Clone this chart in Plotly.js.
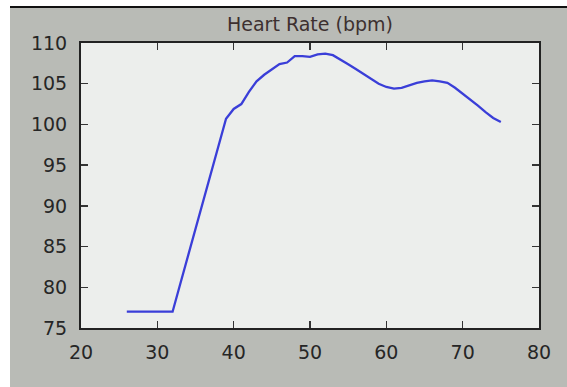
<!DOCTYPE html>
<html>
<head>
<meta charset="utf-8">
<script src="https://cdn.plot.ly/plotly-3.0.1.min.js"></script>
<style>
html,body{margin:0;padding:0;background:#ffffff;width:567px;height:387px;overflow:hidden;}
#wrap{position:absolute;left:10px;top:6px;width:557px;height:381px;border-top:2px solid #111;background:#b9bbb6;}
#chart{width:557px;height:379px;}
</style>
</head>
<body>
<div id="wrap"><div id="chart"></div></div>
<script>
const timeSec = [26,27,28,29,30,31,32,33,34,35,36,37,38,39,40,41,42,43,44,45,46,47,48,49,50,51,52,53,54,55,56,57,58,59,60,61,62,63,64,65,66,67,68,69,70,71,72,73,74,75];
const heartRate = [77,77,77,77,77,77,77,80.4,83.8,87.2,90.5,93.9,97.3,100.7,101.9,102.5,104.0,105.3,106.1,106.8,107.4,107.6,108.4,108.4,108.3,108.6,108.7,108.5,108.0,107.4,106.8,106.2,105.6,105.0,104.6,104.4,104.5,104.8,105.1,105.3,105.4,105.3,105.1,104.5,103.8,103.0,102.3,101.5,100.8,100.3];
const xTicks = [20,30,40,50,60,70,80];
const yTicks = [75,80,85,90,95,100,105,110];
const chartTitle = 'Heart Rate (bpm)';

const trace = {
  x: timeSec, y: heartRate, type: 'scatter', mode: 'lines',
  line: {color: '#3a3ed8', width: 2.3, shape: 'linear'},
  hoverinfo: 'none'
};
const axisCommon = {
  showgrid: false, zeroline: false, showline: true, linecolor: '#222', linewidth: 2,
  mirror: 'ticks', ticks: 'inside', ticklen: 7, tickwidth: 1.5, tickcolor: '#333',
  tickfont: {family: 'DejaVu Sans', size: 19, color: '#262626'}
};
const layout = {
  width: 557, height: 379,
  paper_bgcolor: '#b9bbb6', plot_bgcolor: '#eceeec',
  margin: {l: 71, r: 28, t: 35, b: 59},
  showlegend: false,
  title: {text: chartTitle, font: {family: 'DejaVu Sans', size: 19, color: '#3d3030'},
          x: 0.5, xref: 'paper', y: 1, yref: 'paper', yanchor: 'bottom', pad: {b: 12}},
  xaxis: Object.assign({}, axisCommon, {range: [20, 80], tickvals: xTicks, ticktext: xTicks.map(String), ticklabelstandoff: 6}),
  yaxis: Object.assign({}, axisCommon, {range: [75, 110], tickvals: yTicks, ticktext: yTicks.map(String), ticklabelstandoff: 8})
};
Plotly.newPlot('chart', [trace], layout, {displayModeBar: false, staticPlot: true});
</script>
</body>
</html>
